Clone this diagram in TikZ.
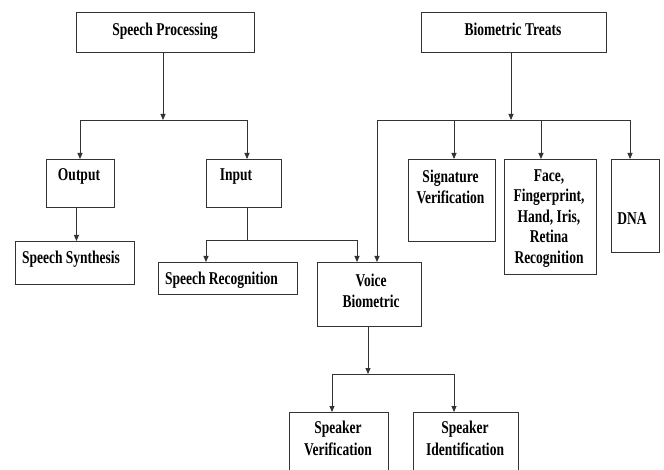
\documentclass[tikz,border=0pt]{standalone}
\usepackage{fontspec}
\setmainfont[FakeStretch=0.75]{Liberation Serif}
\usetikzlibrary{arrows.meta}
\tikzset{
  box/.style={draw=black!80, line width=0.9pt, inner sep=0pt, anchor=north west},
  lbl/.style={font=\fontsize{18}{21}\selectfont\bfseries, align=center, anchor=north, inner sep=0pt, text=black},
  conn/.style={draw=black!80, line width=0.9pt},
  arr/.style={conn, -{Triangle[length=6pt,width=5pt]}},
}
\begin{document}
\begin{tikzpicture}[x=1pt,y=-1pt]
\useasboundingbox (0,0) rectangle (664,470);
\fill[white] (0,0) rectangle (664,470);
\clip (0,0) rectangle (664,470);
% boxes
\node[box, minimum width=178pt, minimum height=40pt] (sp) at (76,12) {};
\node[box, minimum width=185pt, minimum height=40pt] (bt) at (421,12) {};
\node[box, minimum width=68pt, minimum height=48pt] (out) at (46,159) {};
\node[box, minimum width=75pt, minimum height=48pt] (in) at (206,159) {};
\node[box, minimum width=119pt, minimum height=43pt] (ss) at (15,241) {};
\node[box, minimum width=139pt, minimum height=32pt] (sr) at (158,262) {};
\node[box, minimum width=104pt, minimum height=64pt] (vb) at (317,262) {};
\node[box, minimum width=87pt, minimum height=82pt] (sig) at (408,159) {};
\node[box, minimum width=92pt, minimum height=115pt] (face) at (504,159) {};
\node[box, minimum width=48pt, minimum height=93pt] (dna) at (611,159) {};
\node[box, minimum width=99pt, minimum height=70pt] (spv) at (289,412) {};
\node[box, minimum width=105pt, minimum height=70pt] (spi) at (413,412) {};
% labels
\node[lbl] (spT) at (165,22.5) {Speech Processing};
\node[lbl] (btT) at (513,22.5) {Biometric Treats};
\node[lbl] (outT) at (79,168.5) {Output};
\node[lbl] (inT) at (236,168.5) {Input};
\node[lbl] (ssT) at (71,250.5) {Speech Synthesis};
\node[lbl] (srT) at (221.5,271.5) {Speech Recognition};
\node[lbl] (vbT) at (371,273.5) {Voice\\Biometric};
\node[lbl] (sigT) at (450.5,169.5) {Signature\\Verification};
\node[lbl, font=\fontsize{18}{20.5}\selectfont\bfseries] (faceT) at (549,169.5) {Face,\\Fingerprint,\\Hand, Iris,\\Retina\\Recognition};
\node[lbl] (dnaT) at (632,212.5) {DNA};
\node[lbl, font=\fontsize{18}{22.5}\selectfont\bfseries] (spvT) at (338,420.5) {Speaker\\Verification};
\node[lbl, font=\fontsize{18}{22.5}\selectfont\bfseries] (spiT) at (465,420.5) {Speaker\\Identification};
% speech processing tree
\coordinate (j1) at (163,120);
\coordinate (j1l) at (80,120);
\coordinate (j1r) at (247,120);
\draw[arr] (sp.south -| j1) -- (j1);
\draw[conn] (j1l) -- (j1r);
\draw[arr] (j1l) -- (j1l |- out.north);
\draw[arr] (j1r) -- (j1r |- in.north);
\draw[arr] ([xshift=-4pt]out.south) -- ([xshift=-4pt]out.south |- ss.north);
% input tree
\coordinate (j2) at (247,240);
\coordinate (j2l) at (206,240);
\coordinate (j2r) at (357,240);
\draw[conn] (in.south -| j2) -- (j2);
\draw[conn] (j2l) -- (j2r);
\draw[arr] (j2l) -- (j2l |- sr.north);
\draw[arr] (j2r) -- (j2r |- vb.north);
% biometric tree
\coordinate (j3) at (511,120);
\coordinate (j3l) at (377,120);
\coordinate (j3a) at (454,120);
\coordinate (j3b) at (541,120);
\coordinate (j3r) at (630,120);
\draw[arr] (bt.south -| j3) -- (j3);
\draw[conn] (j3l) -- (j3r);
\draw[arr] (j3l) -- (j3l |- vb.north);
\draw[arr] (j3a) -- (j3a |- sig.north);
\draw[arr] (j3b) -- (j3b |- face.north);
\draw[arr] (j3r) -- (j3r |- dna.north);
% voice biometric tree
\coordinate (j4) at (368,374);
\coordinate (j4l) at (332,374);
\coordinate (j4r) at (454,374);
\draw[arr] (vb.south -| j4) -- (j4);
\draw[conn] (j4l) -- (j4r);
\draw[arr] (j4l) -- (j4l |- spv.north);
\draw[arr] (j4r) -- (j4r |- spi.north);
\end{tikzpicture}
\end{document}
